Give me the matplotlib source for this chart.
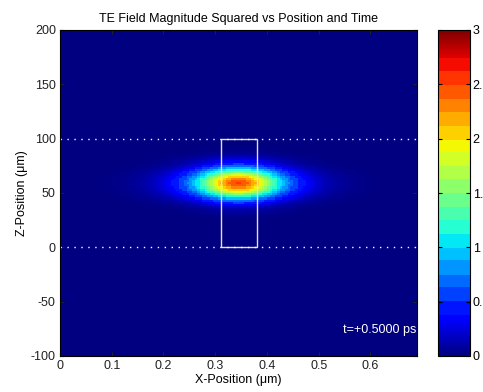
import numpy as np
import matplotlib
matplotlib.use("Agg")
import matplotlib.pyplot as plt
from matplotlib.colors import ListedColormap
from matplotlib.patches import Rectangle

plt.rcParams['font.family'] = ['Liberation Sans', 'DejaVu Sans']
plt.rcParams['axes.unicode_minus'] = False

# Pulse parameters (|E|^2 of the TE mode at t = +0.5 ps)
peak_value = 2.5           # |E|^2 at the pulse centre
center_x = 0.345           # µm, pulse position along x
center_z = 59.0            # µm, mode centre across the guide
pulse_width = 0.081        # µm, sech^2 width along x
mode_width = 14.3          # µm, Gaussian 1/e half-width along z

# Simulation window and grid
x_range = [0.0, 0.69]
z_range = [-100.0, 200.0]
n_x, n_z = 138, 150

# Guiding layer boundaries and detector box
layer_z = [0.0, 100.0]
box_x = [0.311, 0.381]
box_z = [0.0, 100.0]

time_label = "t=+0.5000 ps"
x_ticks = [0, 0.1, 0.2, 0.3, 0.4, 0.5, 0.6]
z_ticks = [-100, -50, 0, 50, 100, 150, 200]
c_ticks = [0, 0.5, 1, 1.5, 2, 2.5, 3]
c_labels = ["0", "0.5", "1", "1.5", "2", "2.5", "3"]

FS = 9

# Jet colormap, banded through the middle range, smooth at both ends
base = plt.get_cmap('jet')
vals = np.linspace(0, 1, 256)
cols = []
for v in vals:
    if v < 3 / 24 or v > 22 / 24:
        cols.append(base(v))
    else:
        cols.append(base((np.floor(v * 24) + 0.5) / 24))
cmap = ListedColormap(cols)

xe = np.linspace(x_range[0], x_range[1], n_x + 1)
ze = np.linspace(z_range[0], z_range[1], n_z + 1)
xc = 0.5 * (xe[:-1] + xe[1:])
zc = 0.5 * (ze[:-1] + ze[1:])
X, Z = np.meshgrid(xc, zc)
field = (peak_value
         / np.cosh((X - center_x) / pulse_width) ** 2
         * np.exp(-((Z - center_z) / mode_width) ** 2))

fig = plt.figure(figsize=(4.83, 3.92), dpi=100)
ax = fig.add_axes([60 / 483, 1 - 356 / 392, 357 / 483, 326 / 392])
cax = fig.add_axes([438 / 483, 1 - 356 / 392, 32 / 483, 326 / 392])

mesh = ax.pcolormesh(xe, ze, field, cmap=cmap, vmin=0, vmax=3, shading='flat')

for zl in layer_z:
    ax.plot(x_range, [zl, zl], color='white', linestyle=(0, (1, 4)), linewidth=1)
ax.add_patch(Rectangle((box_x[0], box_z[0]), box_x[1] - box_x[0], box_z[1] - box_z[0],
                       fill=False, edgecolor='#e0e0e0', linewidth=1))
ax.text(0.547, -76, time_label, color='white', fontsize=FS, ha='left', va='center',
        clip_on=True)

ax.set_xlim(x_range)
ax.set_ylim(z_range)
ax.set_xticks(x_ticks)
ax.set_xticklabels([f"{t:g}" for t in x_ticks])
ax.set_yticks(z_ticks)
ax.tick_params(direction='in', labelsize=FS, length=3, top=True, right=True,
               colors='#222222', pad=3)
ax.set_title("TE Field Magnitude Squared vs Position and Time", fontsize=FS, pad=6)
ax.set_xlabel("X-Position (\u03bcm)", fontsize=FS, labelpad=1)
ax.set_ylabel("Z-Position (\u03bcm)", fontsize=FS, labelpad=2)

cb = fig.colorbar(mesh, cax=cax)
cb.set_ticks(c_ticks)
cb.set_ticklabels(c_labels)
cax.tick_params(direction='in', labelsize=FS, length=3, left=True, right=True, pad=2)
cb.outline.set_linewidth(0.8)

fig.savefig("out.png", dpi=100)
